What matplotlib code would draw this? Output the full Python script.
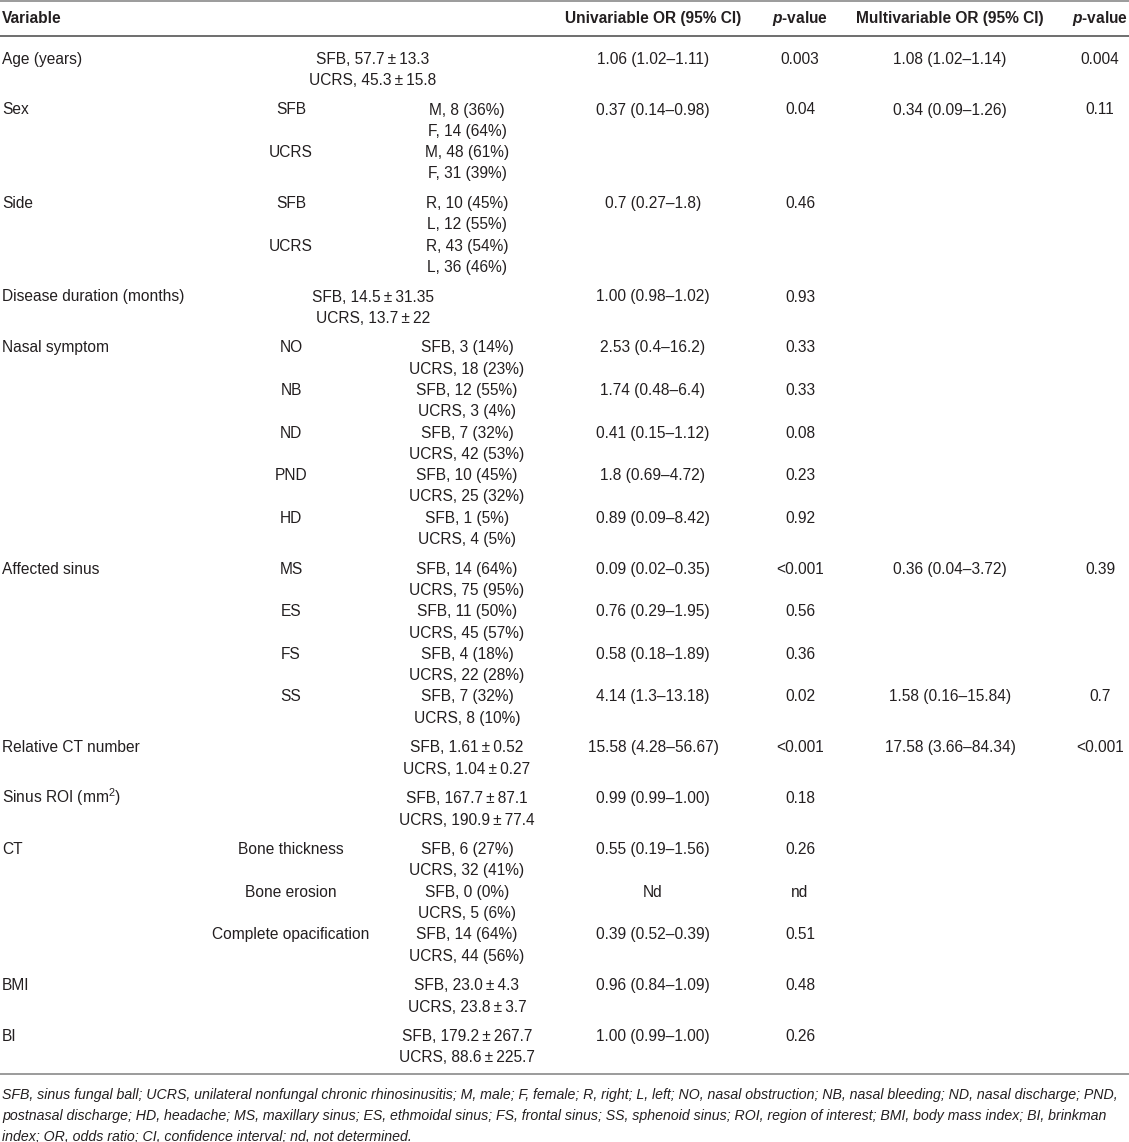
import matplotlib
matplotlib.use("Agg")
import matplotlib.pyplot as plt
from matplotlib import font_manager

W, H = 1129, 1142
DPI = 100
OUTPUT_FILE = "out.png"

PM = "\u2009\u00b1\u2009"

# ---- table content -------------------------------------------------------
VARIABLES = [
    "Age (years)", "Sex", "Side", "Disease duration (months)", "Nasal symptom",
    "Affected sinus", "Relative CT number", "Sinus ROI (mm$^{\\mathrm{2}}$)",
    "CT", "BMI", "BI",
]

SUBGROUPS = [
    [""],
    ["SFB", "UCRS"],
    ["SFB", "UCRS"],
    [""],
    ["NO", "NB", "ND", "PND", "HD"],
    ["MS", "ES", "FS", "SS"],
    [""],
    [""],
    ["Bone thickness", "Bone erosion", "Complete opacification"],
    [""],
    [""],
]

GROUP_VALUES = [
    [[f"SFB, 57.7{PM}13.3", f"UCRS, 45.3{PM}15.8"]],
    [["M, 8 (36%)", "F, 14 (64%)"], ["M, 48 (61%)", "F, 31 (39%)"]],
    [["R, 10 (45%)", "L, 12 (55%)"], ["R, 43 (54%)", "L, 36 (46%)"]],
    [[f"SFB, 14.5{PM}31.35", f"UCRS, 13.7{PM}22"]],
    [["SFB, 3 (14%)", "UCRS, 18 (23%)"], ["SFB, 12 (55%)", "UCRS, 3 (4%)"],
     ["SFB, 7 (32%)", "UCRS, 42 (53%)"], ["SFB, 10 (45%)", "UCRS, 25 (32%)"],
     ["SFB, 1 (5%)", "UCRS, 4 (5%)"]],
    [["SFB, 14 (64%)", "UCRS, 75 (95%)"], ["SFB, 11 (50%)", "UCRS, 45 (57%)"],
     ["SFB, 4 (18%)", "UCRS, 22 (28%)"], ["SFB, 7 (32%)", "UCRS, 8 (10%)"]],
    [[f"SFB, 1.61{PM}0.52", f"UCRS, 1.04{PM}0.27"]],
    [[f"SFB, 167.7{PM}87.1", f"UCRS, 190.9{PM}77.4"]],
    [["SFB, 6 (27%)", "UCRS, 32 (41%)"], ["SFB, 0 (0%)", "UCRS, 5 (6%)"],
     ["SFB, 14 (64%)", "UCRS, 44 (56%)"]],
    [[f"SFB, 23.0{PM}4.3", f"UCRS, 23.8{PM}3.7"]],
    [[f"SFB, 179.2{PM}267.7", f"UCRS, 88.6{PM}225.7"]],
]

UNI_OR = [
    ["1.06 (1.02–1.11)"],
    ["0.37 (0.14–0.98)", ""],
    ["0.7 (0.27–1.8)", ""],
    ["1.00 (0.98–1.02)"],
    ["2.53 (0.4–16.2)", "1.74 (0.48–6.4)", "0.41 (0.15–1.12)",
     "1.8 (0.69–4.72)", "0.89 (0.09–8.42)"],
    ["0.09 (0.02–0.35)", "0.76 (0.29–1.95)", "0.58 (0.18–1.89)",
     "4.14 (1.3–13.18)"],
    ["15.58 (4.28–56.67)"],
    ["0.99 (0.99–1.00)"],
    ["0.55 (0.19–1.56)", "Nd", "0.39 (0.52–0.39)"],
    ["0.96 (0.84–1.09)"],
    ["1.00 (0.99–1.00)"],
]

UNI_P = [
    ["0.003"], ["0.04", ""], ["0.46", ""], ["0.93"],
    ["0.33", "0.33", "0.08", "0.23", "0.92"],
    ["<0.001", "0.56", "0.36", "0.02"],
    ["<0.001"], ["0.18"], ["0.26", "nd", "0.51"], ["0.48"], ["0.26"],
]

MULTI_OR = [
    ["1.08 (1.02–1.14)"], ["0.34 (0.09–1.26)", ""], ["", ""], [""],
    ["", "", "", "", ""],
    ["0.36 (0.04–3.72)", "", "", "1.58 (0.16–15.84)"],
    ["17.58 (3.66–84.34)"], [""], ["", "", ""], [""], [""],
]

MULTI_P = [
    ["0.004"], ["0.11", ""], ["", ""], [""],
    ["", "", "", "", ""],
    ["0.39", "", "", "0.7"],
    ["<0.001"], [""], ["", "", ""], [""], [""],
]

# rows whose group values span the sub-group column
SPANNING = ["Age (years)", "Disease duration (months)"]

HEADERS = ["Variable", "Univariable OR (95% CI)", "$\\mathit{p}$-value",
           "Multivariable OR (95% CI)", "$\\mathit{p}$-value"]

FOOTNOTE = [
    "SFB, sinus fungal ball; UCRS, unilateral nonfungal chronic rhinosinusitis; "
    "M, male; F, female; R, right; L, left; NO, nasal obstruction; NB, nasal "
    "bleeding; ND, nasal discharge; PND,",
    "postnasal discharge; HD, headache; MS, maxillary sinus; ES, ethmoidal sinus; "
    "FS, frontal sinus; SS, sphenoid sinus; ROI, region of interest; BMI, body "
    "mass index; BI, brinkman",
    "index; OR, odds ratio; CI, confidence interval; nd, not determined.",
]

# ---- layout (pixels) -----------------------------------------------------
X_VAR = 2
X_SUB = 291
X_VAL = 467
X_SPAN = 373
X_UNI = 653
X_UNI_P = 800
X_MULTI = 950
X_MULTI_P = 1100
FIRST_ROW = 58
LINE_STEP = 21.3
BLOCK_GAP = 29.6
HALF_CAP = 5.6
TEXT_COLOR = "#231f20"
RULE_COLOR = "#808080"
BODY_SIZE = 11.2

FAMILY = ["Liberation Sans", "DejaVu Sans"]
plt.rcParams["mathtext.fontset"] = "custom"
plt.rcParams["mathtext.rm"] = "Liberation Sans"
plt.rcParams["mathtext.it"] = "Liberation Sans:italic:bold"
plt.rcParams["mathtext.bf"] = "Liberation Sans:bold"

installed = {f.name for f in font_manager.fontManager.ttflist}
foot_family = ["Liberation Sans Narrow"] if "Liberation Sans Narrow" in installed else FAMILY


def put(ax, x, y, s, ha="center", **kw):
    """Write one line of text with its caps centred on pixel row y."""
    return ax.text(x, y + HALF_CAP, s, ha=ha, va="baseline", fontsize=kw.pop("fontsize", BODY_SIZE),
                   family=kw.pop("family", FAMILY), color=TEXT_COLOR, **kw)


def main():
    fig = plt.figure(figsize=(W / DPI, H / DPI), dpi=DPI)
    ax = fig.add_axes([0, 0, 1, 1])
    ax.set_xlim(0, W)
    ax.set_ylim(H, 0)
    ax.set_axis_off()

    # header
    ax.plot([0, W], [1, 1], color=RULE_COLOR, lw=1.1)
    header_x = [X_VAR, X_UNI, X_UNI_P, X_MULTI, X_MULTI_P]
    for i, (hx, label) in enumerate(zip(header_x, HEADERS)):
        put(ax, hx, 17, label, ha="left" if i == 0 else "center", fontweight="bold")
    ax.plot([0, W], [35.5, 35.5], color="#6e6e6e", lw=1.4)

    # body
    y = FIRST_ROW
    for i, var in enumerate(VARIABLES):
        put(ax, X_VAR, y, var, ha="left")
        x_val = X_SPAN if var in SPANNING else X_VAL
        for j, sub in enumerate(SUBGROUPS[i]):
            y_sub = y + j * 2 * LINE_STEP
            if sub:
                put(ax, X_SUB, y_sub, sub)
            for k, line in enumerate(GROUP_VALUES[i][j]):
                put(ax, x_val, y_sub + k * LINE_STEP, line)
            for cx, col in ((X_UNI, UNI_OR), (X_UNI_P, UNI_P),
                            (X_MULTI, MULTI_OR), (X_MULTI_P, MULTI_P)):
                if col[i][j]:
                    put(ax, cx, y_sub, col[i][j])
        n_lines = 2 * len(SUBGROUPS[i])
        y += (n_lines - 1) * LINE_STEP + BLOCK_GAP

    bottom = y - BLOCK_GAP + 17
    ax.plot([0, W], [bottom, bottom], color=RULE_COLOR, lw=1.1)

    # footnote, sized so the first line fills the width
    notes = []
    for k, line in enumerate(FOOTNOTE):
        notes.append(put(ax, X_VAR, bottom + 20 + k * 20.8, line, ha="left",
                         fontsize=10, family=foot_family, style="italic"))
    renderer = fig.canvas.get_renderer()
    width = notes[0].get_window_extent(renderer).width
    size = 10 * (W - 4) / width
    for t in notes:
        t.set_fontsize(size)

    fig.savefig(OUTPUT_FILE, dpi=DPI)
    plt.close(fig)


if __name__ == "__main__":
    main()
